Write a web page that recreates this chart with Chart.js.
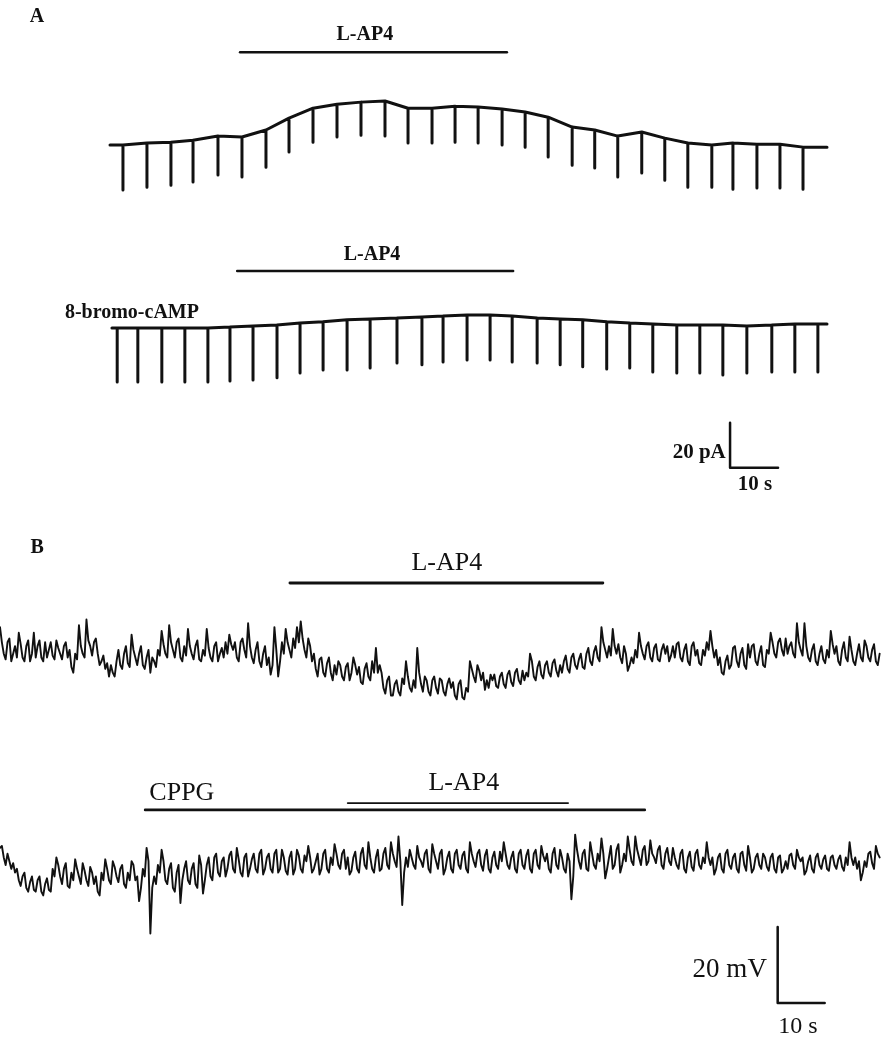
<!DOCTYPE html>
<html>
<head>
<meta charset="utf-8">
<script src="https://cdn.jsdelivr.net/npm/chart.js@4.4.0/dist/chart.umd.min.js"></script>
<style>
  body { margin: 0; background: #fff; }
  #fig { position: relative; width: 882px; height: 1038px; }
  canvas { position: absolute; left: 0; }
</style>
</head>
<body>
<div id="fig">
  <canvas id="a1" width="882" height="215" style="top:0px"></canvas>
  <canvas id="a2" width="882" height="300" style="top:215px"></canvas>
  <canvas id="b1" width="882" height="200" style="top:515px"></canvas>
  <canvas id="b2" width="882" height="323" style="top:715px"></canvas>
</div>
<script>
// Panel A: holding current (pA) at each test pulse, and the current reached during the pulse
const a1PulseT = [2.7, 7.7, 12.7, 17.3, 22.5, 27.5, 32.5, 37.3, 42.3, 47.3, 52.3, 57.3, 62.1, 67.1, 71.9,
                  76.7, 81.7, 86.5, 91.3, 96.3, 101.0, 105.8, 110.8, 115.6, 120.4, 125.4, 129.8, 134.8, 139.6, 144.4];
const a1Hold = [0, 0.9, 1.3, 2.2, 4.0, 3.6, 6.7, 12.0, 16.4, 18.2, 19.1, 19.6, 16.4, 16.4, 17.3,
                16.9, 16.0, 14.7, 12.4, 8.0, 6.7, 4.0, 5.8, 3.1, 0.9, 0, 0.9, 0.4, 0.4, -0.9];
const a1Peak = [-20, -18.7, -17.8, -16.4, -13.3, -14.2, -9.8, -3.1, 1.3, 3.6, 4.4, 4.0, 0.9, 0.9, 1.3,
                0.9, 0, -0.9, -5.3, -8.9, -10.2, -14.2, -12.4, -15.6, -18.7, -18.7, -19.6, -19.1, -19.1, -19.6];
const a1Ends = [[0, 0], [149.4, -0.9]];

const a2PulseT = [1.5, 5.8, 10.8, 15.6, 20.4, 25.0, 29.8, 34.8, 39.6, 44.4, 49.4, 54.2, 59.8, 65.0, 69.4, 74.4,
                  79.2, 83.8, 89.0, 93.8, 98.5, 103.5, 108.3, 113.1, 118.1, 122.9, 127.7, 132.7, 137.9, 142.7, 147.5];
const a2Hold = [0, 0, 0, 0, 0, 0.4, 0.9, 1.3, 2.2, 2.7, 3.6, 4.0, 4.4, 4.9, 5.3, 5.8,
                5.8, 5.3, 4.4, 4.0, 3.6, 2.7, 2.2, 1.8, 1.3, 1.3, 1.3, 0.9, 1.3, 1.8, 1.8];
const a2Peak = [-24, -24, -24, -24, -24, -23.6, -23.1, -22.2, -20, -18.7, -18.7, -17.8, -15.6, -16.4, -15.1, -14.2,
                -14.2, -15.1, -15.6, -16.4, -17.3, -18.2, -17.8, -19.6, -20, -20, -20.9, -20, -19.6, -19.6, -19.6];
const a2Ends = [[0.4, 0], [149.4, 1.8]];

// Panel B: membrane potential (mV, relative), sampled every 0.4 s
const dtB = 0.4;
const b1 = [
  6, 2, -1, -2.5, 2, 3, -3, -1, 1, -2, 4.5, 1.5, -2, -3, 1, 2.5, -3, -1, 4.5, -2,
  1, 2.5, -2, -3, 2, -2, 0, 2, -1.5, -2.5, 2.5, 0.5, -1, -2.5, 1, 2, -2, 0, -4.5, -6,
  -1, -2.5, 6.5, 1, -1, -2, 8, 2.5, 1, -1.5, 2, 3, -1, -4, -3, -1.5, -5, -3.5, -7, -4,
  -6, -7, -3, 0, -4, -5, -1, 1, -3.5, -4.5, 4, 0, -2, -4, -1, 1, -4, -5, -2, 0,
  -6, -2, -3, -4.5, 0, -1.5, 5, 1.5, -1, -2, 6.5, 2, 0, -2, 2, 3, -2, -3, 1, -1.5,
  5.5, 1, -1, -2.5, 1, 2.5, -2.5, -3, 0, -1.5, 5.5, 0.5, -2, -3, 1, 2, -3, -1, 0.5, -2,
  2, -1, 4, 1.5, 0, 2, -2, -3, 2, 3, 0, -2, 7, 1, -2, -3.5, 0, 2, -3, -4.5,
  -1, 1, -4, -2, -6.5, -4, 6, 0, -7, -3, 2, -1, 5.5, 2, 0, -2, 3, 0.5, 6, 2,
  7.5, 3, 0, -2, 3, 1, -3, -1, -5, -7, -2.5, -2, -6, -7, -3.5, -2, -6, -8, -4, -6.5,
  -3, -4, -7, -8, -4.5, -3.5, -8, -6, -2, -4, -6.5, -4.5, -8.5, -9, -5, -3.5, -7, -8, -3, -6,
  0.5, -6, -4, -6, -10, -11.5, -8, -7, -12, -12, -9, -8, -11, -12, -7.5, -9, -3, -7, -10, -11,
  -8, -10, 0.5, -6, -9, -11, -7, -8, -11, -12, -8, -7, -10, -11.5, -7.5, -8, -11, -12, -9, -7.5,
  -10, -8.5, -12, -13, -9, -8, -12.5, -13, -10, -11, -3, -5, -7, -8.5, -4, -5.5, -8, -6, -10.5, -8,
  -10, -6.5, -8, -6.5, -9.5, -10, -7, -6, -9, -10, -6.5, -5.5, -8.5, -9.5, -6, -5, -8, -9, -5.5, -8,
  -6, -7, -1, -3, -7, -8, -4.5, -3, -6.5, -7.5, -4, -3, -6, -7, -3.5, -2.5, -5.5, -7, -4, -6,
  -3, -1.5, -5, -6, -2, -1, -4, -5, -2.5, -1, -4.5, -5, -1, 0.5, -3, -4, -0.5, 1, -2, -3,
  6, 2, 0, -2, 1, -1.5, 5.5, 1, -1, 1.5, -2, -3.5, 1, -1, -5.5, -4, -2, -3.5, 0, -2,
  4.5, 1, -1, -2.5, 1, 2, -2, -3, 0.5, 1.5, -2.5, -3, 0, 1.5, -1, 1, -3, -1.5, 1, -2,
  1.5, 2, -2, -3, 0, 1.5, -3, -4, 1, 2, -1.5, 0, -3.5, -4, 0, -1.5, 2, 0, 5, 1,
  -2, 0, -4, -2, -6, -6.5, -3, -1.5, -5, -4, 0.5, 1, -3, -4.5, -1, 0.5, -4, -5, 1.5, -2,
  1, 1.5, -3, -4, -1, 1, -4, -4.5, 0, -1, 4.5, 2, -1, -2, 2, 3, 0, -1.5, 3, -1,
  1, 2, -1, -2, 7, 2, 0, -1.5, 7, 1, -2, -3, 0, 1.5, -3, -4, -1, 1, -2.5, -3.5,
  0, -2, 5, 1.5, -1, 1, -3, -4, 0, 2, -2, -3, 3.5, 0, -3, -4, -1, 1.5, -2, -3,
  2.5, 1, -2, -3, 0, 1.5, -3, -4, -1];
const b2 = [
  4.5, 5, 2, 0, 3, 1, -1, 0.5, -2, -1, -4, -5.5, -3, -2, -6, -7, -4.5, -3, -6.5, -7,
  -4, -3, -7, -8, -5, -3.5, -6.5, -7, -1, -3, 2, 0, -3, -5, -1, 0.5, -5.5, -6, -2, -4,
  1.5, -1, -3, -5, 0.5, -1.5, -4, -5.5, -0.5, -2, -5, -3, -7, -8, -2, -4, 1.5, -1, -4, -5,
  1, -0.5, -3, -4.5, -1, 0, -5, -6, -2, -4, 1, 0, -4, -3, -9.5, -6, -1, -3, 4.5, 1,
  -18, -6, -3, -5, 0, -2, 4, 1, -4, -5, -1, 0.5, -6, -7, -2, 0, -10, -4, -1, 1,
  -4, -5, -1, 0.5, -5, -6, 2.5, 0, -7.5, -4, 0, 2, -3, -4, 2, 3, -2, -3, 1, 2,
  -3, -1, 2.5, 3.5, -1, -2, 4.5, 1.5, -2, -3, 2, 3, -3, -1, 1.5, 3, -1, -2, 3, 4,
  -2.5, -1, 2, 3, -1, -2, 3, 4, -2, -1, 4, 2, -1.5, -2.5, 2, 3.5, -2.5, -1, 4, 2.5,
  -1, -2, 2.5, 1, 5, 2, -2, -1, 1, 3, -2.5, -1, 3, 4, -1, -2, 2, 0, 5.5, 3,
  0, -1, 3, 4, -1, 2, -2.5, -1.5, 2, 3.5, -1, -2, 3, 4.5, 0, -1, 6, 2, -1, -2,
  2, 4, -1.5, -1, 3, 4.5, 0, -1, 6, 3, 1, -0.5, 7.5, 1, -10.5, -2, 2, -0.5, 4, 2,
  0, -1, 5, 2, 1, -0.5, 3, 4, -1, -2, 5.5, 3, 1, -1, 3, 4, -2.5, -1, 2, 3.5,
  -1, -2, 3, 4, 0, -1, 2.5, 3.5, -1, -2, 6, 3, 1, -0.5, 3, 4, 0, -1.5, 2.5, 4,
  -1, -2, 2, 3.5, 0, -1, 3.5, 1, 6, 3, 0, -1, 2, 3.5, -1, -2, 3, 4, 0, -1,
  2.5, 4, -1, -2, 3, 4, 0, -1, 5, 2.5, 1, 3, -1, -2, 3, 4.5, 0, -1, 4, 2,
  -1, -2, 3, 1, -9, -3, 8, 4, 1, -1, 3, 4, -1, -1.5, 6, 3, 0, -1, 3, 1,
  7, 3, -3.5, -1, 2, 5, -1, 0, 4, 5.5, -2, 0, 3, 1, 7.5, 4, 1, 0, 7.5, 4,
  2, 0, 4, 5, 0, 1, 6.5, 3, 2, 0.5, 4, 5, 0, -1, 3, 4.5, 1, 0, 4.5, 2,
  0, -1, 3, 4, -1, -2, 2, 3.5, -0.5, -1.5, 3, 4, 0, -1, 2, 0.5, 6, 2, 0, 2,
  -2.5, -1, 2, 3, -1, -2, 3, 4, 0, -1, 2, 3, -1, -2, 3, 3.5, 0, -1.5, 5, 2,
  -2, -1, 2, 3, 0, -1, 3, 2, -0.5, -1.5, 2, 3, -1, -2, 2, 2.5, -2, -1, 1, -1,
  2.5, 3, 0, -1, 4, 2, 1, 2, -2.5, -1.5, 1, 2.5, -1, -2, 2, 3, 0, -1, 1.5, 2.5,
  -1, -1.5, 2, 2.5, 0, -1, 1.5, 2.5, -0.5, -1.5, 2, 0, 6, 2, 0, 2, -1, 1, -4, -2,
  1, -0.5, 3, 3.5, 0.5, -1, 5, 3, 2];

// drug applications [start s, end s]
const a1Drug = [27.1, 82.7];
const a2Drug = [26.5, 84.0];
const b1Drug = [61.7, 128.3];
const b2Cppg = [30.9, 137.2];
const b2Drug = [74.0, 120.9];

// scale bars
const scaleA = { dt: 10, dv: 20 };
const scaleB = { dt: 10, dv: 20 };

const ink = '#111';
const serif = '"Liberation Serif", "Times New Roman", serif';

function pulseTrace(ends, times, hold, peak) {
  const pts = [{ x: ends[0][0], y: ends[0][1] }];
  times.forEach((t, i) => {
    pts.push({ x: t, y: hold[i] }, { x: t, y: peak[i] }, { x: t, y: hold[i] });
  });
  pts.push({ x: ends[1][0], y: ends[1][1] });
  return pts;
}

function sampled(values, dt) {
  return values.map((v, i) => ({ x: i * dt, y: v }));
}

function bar(range, v) {
  return [{ x: range[0], y: v }, { x: range[1], y: v }];
}

function scaleBar(t, v, s) {
  return [{ x: t, y: v + s.dv }, { x: t, y: v }, { x: t + s.dt, y: v }];
}

function ds(data, width) {
  return { data: data, borderColor: ink, borderWidth: width, pointRadius: 0, clip: false, fill: false };
}

const labelPlugin = {
  id: 'labels',
  afterDraw(chart, args, opts) {
    const ctx = chart.ctx;
    const xs = chart.scales.x, ys = chart.scales.y;
    ctx.save();
    ctx.fillStyle = ink;
    ctx.textBaseline = 'middle';
    (opts.items || []).forEach(it => {
      ctx.font = it.font;
      ctx.textAlign = it.align || 'center';
      ctx.fillText(it.text, xs.getPixelForValue(it.x), ys.getPixelForValue(it.y));
    });
    ctx.restore();
  }
};
Chart.register(labelPlugin);

function makeChart(id, datasets, pad, xr, yr, items) {
  return new Chart(document.getElementById(id), {
    type: 'line',
    data: { datasets: datasets },
    options: {
      responsive: false,
      animation: false,
      layout: { padding: pad },
      scales: {
        x: { type: 'linear', display: false, min: xr[0], max: xr[1] },
        y: { type: 'linear', display: false, min: yr[0], max: yr[1] }
      },
      elements: { line: { tension: 0, borderCapStyle: 'round', borderJoinStyle: 'round' } },
      plugins: { legend: { display: false }, tooltip: { enabled: false }, labels: { items: items } }
    }
  });
}

makeChart('a1', [
  ds(pulseTrace(a1Ends, a1PulseT, a1Hold, a1Peak), 3),
  ds(bar(a1Drug, 41.3), 2.5)
], { left: 110, right: 55, top: 20, bottom: 15 }, [0, 149.4], [-24.4, 55.6], [
  { text: 'A', x: -15.2, y: 56.9, font: 'bold 20px ' + serif },
  { text: 'L-AP4', x: 53.1, y: 48.9, font: 'bold 20px ' + serif }
]);

makeChart('a2', [
  ds(pulseTrace(a2Ends, a2PulseT, a2Hold, a2Peak), 3),
  ds(bar(a2Drug, 25.3), 2.5),
  ds(scaleBar(129.2, -62.2, scaleA), 2.5)
], { left: 110, right: 55, top: 25, bottom: 15 }, [0, 149.4], [-76.5, 39.1], [
  { text: 'L-AP4', x: 54.6, y: 32.4, font: 'bold 20px ' + serif },
  { text: '8-bromo-cAMP', x: -9.4, y: 6.7, align: 'left', font: 'bold 20px ' + serif },
  { text: '20 pA', x: 128.3, y: -55.6, align: 'right', font: 'bold 21px ' + serif },
  { text: '10 s', x: 134.4, y: -69.8, font: 'bold 21px ' + serif }
]);

makeChart('b1', [
  ds(sampled(b1, dtB), 1.9),
  ds(bar(b1Drug, 17.6), 2.8)
], { left: 0, right: 0, top: 30, bottom: 10 }, [0, 187.7], [-14.5, 27.6], [
  { text: 'B', x: 7.9, y: 26.8, font: 'bold 20px ' + serif },
  { text: 'L-AP4', x: 95.1, y: 22.9, font: '26px ' + serif }
]);

makeChart('b2', [
  ds(sampled(b2, dtB), 1.9),
  ds(bar(b2Cppg, 14.5), 2.8),
  ds(bar(b2Drug, 16.3), 1.8),
  ds(scaleBar(165.5, -36.3, scaleB), 2.5)
], { left: 0, right: 0, top: 55, bottom: 8 }, [0, 187.7], [-43.4, 25.0], [
  { text: 'CPPG', x: 38.7, y: 18.9, font: '26px ' + serif },
  { text: 'L-AP4', x: 98.7, y: 21.6, font: '26px ' + serif },
  { text: '20 mV', x: 163.2, y: -27.6, align: 'right', font: '27px ' + serif },
  { text: '10 s', x: 169.8, y: -42.6, font: '24px ' + serif }
]);
</script>
</body>
</html>
